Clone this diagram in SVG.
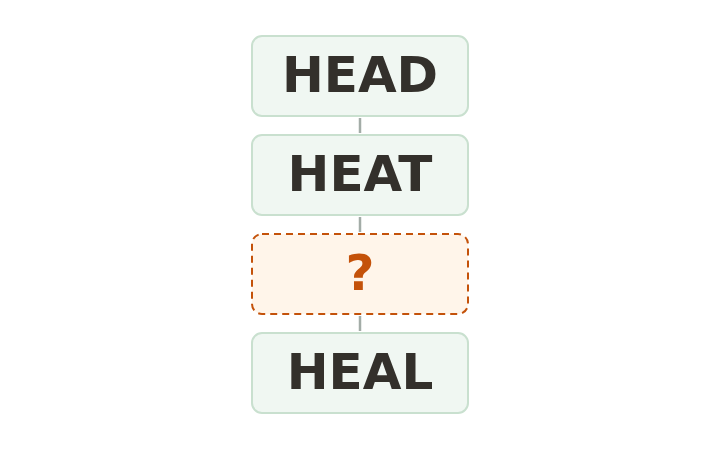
<svg xmlns="http://www.w3.org/2000/svg" width="720" height="450" viewBox="0 0 720 450">
<style>
.box{fill:#f0f7f2;stroke:#c9e0cf;stroke-width:2}
.q{fill:#fff5ea;stroke:#c4520a;stroke-width:2;stroke-dasharray:7 5}
.t{font-family:"DejaVu Sans",sans-serif;font-weight:bold;font-size:50px;fill:#33302b;text-anchor:middle}
.tq{font-family:"DejaVu Sans",sans-serif;font-weight:bold;font-size:50px;fill:#c4520a;text-anchor:middle}
.c{stroke:#a3aca7;stroke-width:2.5;fill:none}
</style>
<rect width="720" height="450" fill="#ffffff"/>
<g id="connectors">
<line class="c" x1="360" y1="118" x2="360" y2="133"/>
<line class="c" x1="360" y1="217" x2="360" y2="232"/>
<line class="c" x1="360" y1="316" x2="360" y2="331"/>
</g>
<g id="head"><rect class="box" x="252" y="36" width="216" height="80" rx="10"/><text class="t" x="360" y="92">HEAD</text></g>
<g id="heat"><rect class="box" x="252" y="135" width="216" height="80" rx="10"/><text class="t" x="360" y="191">HEAT</text></g>
<g id="unknown"><rect class="q" x="252" y="234" width="216" height="80" rx="10"/><text class="tq" x="360" y="290">?</text></g>
<g id="heal"><rect class="box" x="252" y="333" width="216" height="80" rx="10"/><text class="t" x="360" y="389">HEAL</text></g>
</svg>
